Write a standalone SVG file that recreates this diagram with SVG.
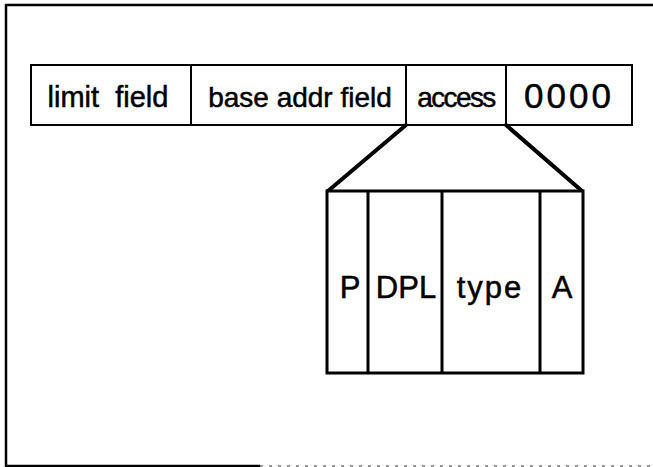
<svg xmlns="http://www.w3.org/2000/svg" width="653" height="467" viewBox="0 0 653 467">
  <style>
    .frame { fill: none; stroke: #000; stroke-width: 2.5; }
    .faint { fill: none; stroke: #777; stroke-width: 1.5; stroke-dasharray: 3 6; }
    .cell { fill: #fff; stroke: #000; stroke-width: 2; }
    .bit { fill: #fff; stroke: #000; stroke-width: 3; }
    .sep3 { stroke: #000; stroke-width: 3; }
    .fan { fill: none; stroke: #000; stroke-width: 4; stroke-linecap: round; }
    text { font-family: "Liberation Sans", Arial, sans-serif; fill: #000; stroke: #000; stroke-width: 0.5; text-anchor: middle; }
    .t28 { font-size: 28px; }
    .t31 { font-size: 31px; }
  </style>
  <rect width="653" height="467" fill="#fff"/>

  <!-- outer border -->
  <path class="frame" d="M653 5 H6 V466 H260"/>
  <path class="faint" d="M260 466 H653"/>

  <!-- descriptor word -->
  <g id="descriptor">
    <g id="limit">
      <rect class="cell" x="31" y="65" width="160" height="60"/>
      <text x="108" y="107" style="font-size:29px" xml:space="preserve">limit  field</text>
    </g>
    <g id="base">
      <rect class="cell" x="191" y="65" width="215" height="60"/>
      <text class="t28" x="300" y="107">base addr field</text>
    </g>
    <g id="access">
      <rect class="cell" x="406" y="65" width="100" height="60"/>
      <text class="t28" x="456" y="107" style="letter-spacing:-1.6px">access</text>
    </g>
    <g id="zero">
      <rect class="cell" x="506" y="65" width="126" height="60"/>
      <text x="569" y="108" style="font-size:35px;letter-spacing:3px">0000</text>
    </g>
  </g>

  <!-- expansion of the access byte -->
  <g id="connectors">
    <line class="fan" x1="406" y1="125" x2="328" y2="191"/>
    <line class="fan" x1="506" y1="125" x2="582" y2="191"/>
  </g>

  <g id="access-bits">
    <rect class="bit" x="327" y="191" width="256" height="182"/>
    <line class="sep3" x1="368" y1="191" x2="368" y2="373"/>
    <line class="sep3" x1="442" y1="191" x2="442" y2="373"/>
    <line class="sep3" x1="540" y1="191" x2="540" y2="373"/>
    <g id="bit-p"><text class="t31" x="350" y="298">P</text></g>
    <g id="bit-dpl"><text class="t31" x="406" y="298">DPL</text></g>
    <g id="bit-type"><text class="t31" x="490" y="298" style="letter-spacing:2px">type</text></g>
    <g id="bit-a"><text class="t31" x="562" y="298">A</text></g>
  </g>
</svg>
